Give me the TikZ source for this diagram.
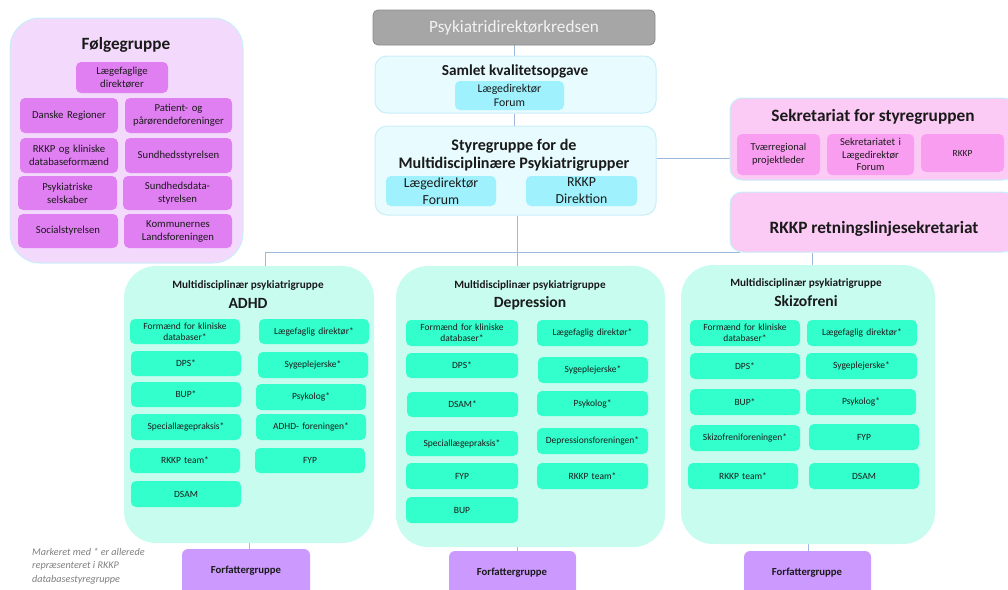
\documentclass[tikz,border=0pt]{standalone}
\usepackage{fontspec}
\setmainfont{Carlito}
\usetikzlibrary{calc}
\definecolor{folgeBg}{HTML}{F3DAFC}
\definecolor{folgeIn}{HTML}{E07FF2}
\definecolor{edgeC}{HTML}{C8EEF8}
\definecolor{greyF}{HTML}{A6A6A6}
\definecolor{greyD}{HTML}{8A8A8A}
\definecolor{cyanBg}{HTML}{E8FBFE}
\definecolor{cyanIn}{HTML}{9EF1FD}
\definecolor{pinkBg}{HTML}{FBCAF5}
\definecolor{pinkIn}{HTML}{F99DF0}
\definecolor{mintBg}{HTML}{C8FCEF}
\definecolor{mintIn}{HTML}{33FFCC}
\definecolor{purp}{HTML}{CC99FF}
\definecolor{connC}{HTML}{9DB8DC}
\definecolor{noteC}{HTML}{7F7F7F}
\definecolor{txt}{HTML}{1A1A1A}
\pgfdeclarelayer{bg}
\pgfsetlayers{bg,main}
\newcommand{\bx}[7]{%
  \node[#1, minimum width={#5-#3}, minimum height={#6-#4}, text width={#5-#3-4}] (#2) at ({(#3+#5)/2},{(#4+#6)/2}) {#7};}
\tikzset{
  base/.style={rounded corners=5pt, align=center, inner sep=1pt, text=txt},
  bigFolge/.style={base, rounded corners=30pt, fill=folgeBg, draw=edgeC, line width=1pt},
  folgeBox/.style={base, fill=folgeIn, draw=none, font=\fontsize{10.7}{13}\selectfont},
  greyBox/.style={base, fill=greyF, draw=greyD, line width=0.8pt, text=white!95!black, font=\fontsize{17.2}{19}\selectfont},
  cyanBig/.style={base, rounded corners=12pt, fill=cyanBg, draw=edgeC, line width=1pt},
  cyanBox/.style={base, fill=cyanIn, draw=none},
  pinkBig/.style={base, rounded corners=12pt, fill=pinkBg, draw=edgeC, line width=1pt},
  pinkBox/.style={base, fill=pinkIn, draw=none, font=\fontsize{10.5}{12.5}\selectfont},
  mintBig/.style={base, rounded corners=32pt, fill=mintBg, draw=none},
  mintBox/.style={base, fill=mintIn, draw=none, font=\fontsize{9.5}{11}\selectfont},
  purpBox/.style={base, rounded corners=6pt, fill=purp, draw=none},
  title/.style={text=txt, inner sep=0pt, align=center},
  grpT/.style={title, font=\bfseries\fontsize{11.2}{13}\selectfont},
  grpN/.style={title, font=\bfseries\fontsize{15.6}{18}\selectfont},
  forfT/.style={title, font=\bfseries\fontsize{10.7}{12}\selectfont},
  conn/.style={draw=connC, line width=1pt},
}
\begin{document}
\begin{tikzpicture}[x=1pt, y=-1pt]
\useasboundingbox (0,0) rectangle (1008,589);
\clip (0,0) rectangle (1008,589);

% ---------- Følgegruppe ----------
\bx{bigFolge}{folge}{10}{18}{243}{263}{}
\node[title, font=\bfseries\fontsize{17.2}{19}\selectfont] (folgeT) at (126,45) {Følgegruppe};
\bx{folgeBox}{f1}{76}{62}{168}{93}{Lægefaglige\\direktører}
\bx{folgeBox}{f2}{20}{98}{118}{133}{Danske Regioner}
\bx{folgeBox}{f3}{125}{98}{232}{133}{Patient- og\\pårørendeforeninger}
\bx{folgeBox}{f4}{20}{138}{118}{173}{RKKP og kliniske\\databaseformænd}
\bx{folgeBox}{f5}{125}{138}{232}{173}{Sundhedsstyrelsen}
\bx{folgeBox}{f6}{18}{176}{117}{210}{Psykiatriske\\selskaber}
\bx{folgeBox}{f7}{123}{176}{232}{210}{Sundhedsdata-\\styrelsen}
\bx{folgeBox}{f8}{18}{214}{118}{248}{Socialstyrelsen}
\bx{folgeBox}{f9}{124}{214}{232}{248}{Kommunernes\\Landsforeningen}

% ---------- Top centre ----------
\bx{greyBox}{psyk}{373}{10}{655}{45}{Psykiatridirektørkredsen}
\bx{cyanBig}{samlet}{375}{56}{656}{113}{}
\node[title, font=\bfseries\fontsize{15.3}{17}\selectfont] (samletT) at (515,71) {Samlet kvalitetsopgave};
\bx{cyanBox,font=\fontsize{11.8}{13.5}\selectfont}{ldf1}{455}{81}{564}{110}{Lægedirektør\\Forum}

\bx{cyanBig}{styre}{375}{126}{656}{215}{}
\node[title, font=\bfseries\fontsize{16.1}{18}\selectfont] (styreT) at (514,155) {Styregruppe for de\\Multidisciplinære Psykiatrigrupper};
\bx{cyanBox,font=\fontsize{13.8}{17}\selectfont}{ldf2}{386}{176}{496}{206}{Lægedirektør\\Forum}
\bx{cyanBox,font=\fontsize{13.8}{17}\selectfont}{rkd}{526}{176}{637}{206}{RKKP\\Direktion}

% ---------- Right ----------
\bx{pinkBig}{sek}{730}{98}{1015}{180}{}
\node[title, font=\bfseries\fontsize{17.3}{19}\selectfont] (sekT) at (873,117) {Sekretariat for styregruppen};
\bx{pinkBox}{s1}{737}{134}{820}{175}{Tværregional\\projektleder}
\bx{pinkBox}{s2}{827}{134}{914}{175}{Sekretariatet i\\Lægedirektør\\Forum}
\bx{pinkBox,font=\fontsize{9.4}{11}\selectfont}{s3}{921}{134}{1004}{172}{RKKP}
\bx{pinkBig}{rkkp}{730}{192}{1015}{252}{}
\node[title, font=\bfseries\fontsize{17.3}{19}\selectfont] (rkkpT) at (874,229) {RKKP retningslinjesekretariat};

% ---------- ADHD ----------
\bx{mintBig}{adhd}{124}{266}{374}{543}{}
\node[grpT] (adhdT1) at (248,286) {Multidisciplinær psykiatrigruppe};
\node[grpN] (adhdT2) at (248,303) {ADHD};
\bx{mintBox}{a1}{130}{319}{240}{344}{Formænd for kliniske\\databaser*}
\bx{mintBox}{a2}{259}{319}{369}{344}{Lægefaglig direktør*}
\bx{mintBox}{a3}{131}{351}{241}{376}{DPS*}
\bx{mintBox}{a4}{258}{352}{368}{378}{Sygeplejerske*}
\bx{mintBox}{a5}{131}{382}{241}{407}{BUP*}
\bx{mintBox}{a6}{256}{384}{366}{410}{Psykolog*}
\bx{mintBox}{a7}{131}{414}{241}{440}{Speciallægepraksis*}
\bx{mintBox}{a8}{256}{414}{366}{440}{ADHD- foreningen*}
\bx{mintBox}{a9}{130}{448}{240}{473}{RKKP team*}
\bx{mintBox}{a10}{255}{448}{365}{473}{FYP}
\bx{mintBox}{a11}{131}{481}{241}{507}{DSAM}
\bx{purpBox}{fa}{182}{549}{310}{600}{}
\node[forfT] (faT) at (246,571) {Forfattergruppe};

% ---------- Depression ----------
\bx{mintBig}{dep}{396}{266}{665}{547}{}
\node[grpT] (depT1) at (530,286) {Multidisciplinær psykiatrigruppe};
\node[grpN] (depT2) at (530,303) {Depression};
\bx{mintBox}{d1}{406}{320}{518}{346}{Formænd for kliniske\\databaser*}
\bx{mintBox}{d2}{537}{320}{648}{346}{Lægefaglig direktør*}
\bx{mintBox}{d3}{406}{353}{518}{378}{DPS*}
\bx{mintBox}{d4}{538}{357}{648}{383}{Sygeplejerske*}
\bx{mintBox}{d5}{407}{392}{518}{417}{DSAM*}
\bx{mintBox}{d6}{537}{391}{648}{416}{Psykolog*}
\bx{mintBox}{d7}{406}{431}{518}{456}{Speciallægepraksis*}
\bx{mintBox}{d8}{537}{428}{648}{454}{Depressionsforeningen*}
\bx{mintBox}{d9}{406}{463}{518}{489}{FYP}
\bx{mintBox}{d10}{537}{463}{648}{489}{RKKP team*}
\bx{mintBox}{d11}{406}{497}{518}{523}{BUP}
\bx{purpBox}{fd}{449}{551}{576}{600}{}
\node[forfT] (fdT) at (512,573) {Forfattergruppe};

% ---------- Skizofreni ----------
\bx{mintBig}{ski}{681}{265}{935}{544}{}
\node[grpT] (skiT1) at (806,284) {Multidisciplinær psykiatrigruppe};
\node[grpN] (skiT2) at (806,301) {Skizofreni};
\bx{mintBox}{k1}{690}{320}{800}{346}{Formænd for kliniske\\databaser*}
\bx{mintBox}{k2}{807}{320}{917}{346}{Lægefaglig direktør*}
\bx{mintBox}{k3}{690}{353}{800}{379}{DPS*}
\bx{mintBox}{k4}{806}{353}{917}{379}{Sygeplejerske*}
\bx{mintBox}{k5}{690}{389}{800}{415}{BUP*}
\bx{mintBox}{k6}{806}{389}{916}{415}{Psykolog*}
\bx{mintBox}{k7}{690}{425}{800}{451}{Skizofreniforeningen*}
\bx{mintBox}{k8}{809}{424}{919}{450}{FYP}
\bx{mintBox}{k9}{688}{463}{798}{489}{RKKP team*}
\bx{mintBox}{k10}{809}{463}{919}{489}{DSAM}
\bx{purpBox}{fs}{744}{551}{871}{600}{}
\node[forfT] (fsT) at (807,573) {Forfattergruppe};

% ---------- Note ----------
\node[anchor=north west, align=left, inner sep=0pt, text=noteC,
      font=\itshape\fontsize{10.2}{13.5}\selectfont] (note) at (32,548)
  {Markeret med * er allerede\\repræsenteret i RKKP\\databasestyregruppe};

% ---------- Connectors ----------
\coordinate (cx1) at (514,0);
\coordinate (busM) at (517,252);
\coordinate (busL) at (265,252);
\coordinate (busR) at (740,252);
\coordinate (busS) at (812,252);
\coordinate (side) at (656,158);
\coordinate (cxd) at (517,0);
\begin{pgfonlayer}{bg}
  \draw[conn] (cx1 |- psyk.south) -- (cx1 |- samlet.north);
  \draw[conn] (cx1 |- samlet.south) -- (cx1 |- styre.north);
  \draw[conn] (side) -- (side -| sek.west);
  \draw[conn] (ldf2.east) -- (rkd.west);
  \draw[conn] (busM |- styre.south) -- (busM |- dep.north);
  \draw[conn] (busL |- adhd.north) -- (busL) -- (busR);
  \draw[conn] (busS |- rkkp.south) -- (busS |- ski.north);
  \draw[conn] (adhd.south) -- (adhd.south |- fa.north);
  \draw[conn] (cxd |- dep.south) -- (cxd |- fd.north);
  \draw[conn] (ski.south) -- (ski.south |- fs.north);
\end{pgfonlayer}
\end{tikzpicture}
\end{document}
